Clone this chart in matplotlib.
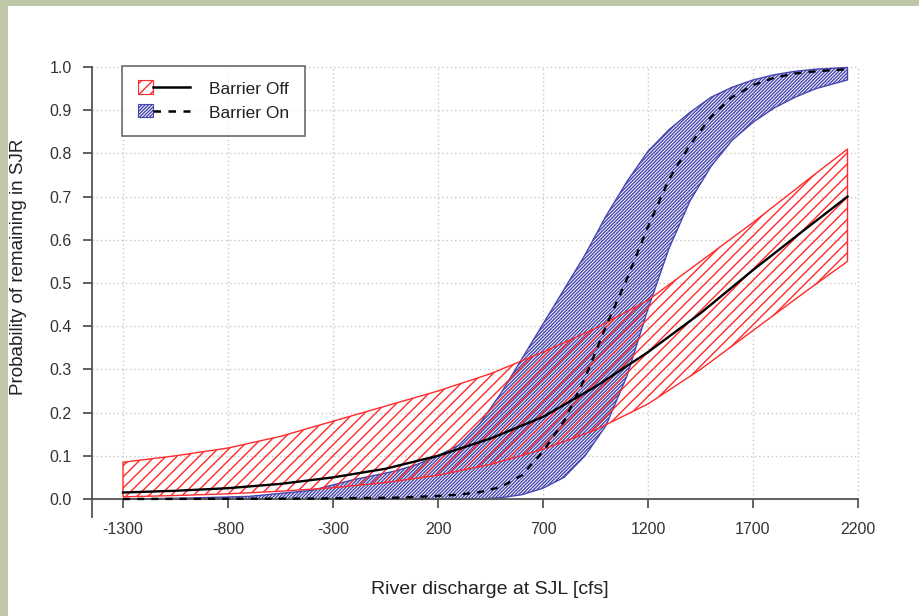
import matplotlib
matplotlib.use("Agg")
import matplotlib.pyplot as plt
from matplotlib.patches import Rectangle
from matplotlib.lines import Line2D

plt.rcParams['font.family'] = ['Liberation Sans', 'DejaVu Sans']
plt.rcParams['hatch.linewidth'] = 1.0

# Barrier off: fitted probability and confidence band
off_x = [-1300, -1050, -800, -550, -300, -50, 200, 450, 700, 950, 1200, 1450, 1700, 1950, 2150]
off_fit = [0.015, 0.019, 0.025, 0.035, 0.05, 0.07, 0.10, 0.14, 0.19, 0.26, 0.34, 0.43, 0.53, 0.625, 0.70]
off_lo = [0.005, 0.008, 0.012, 0.018, 0.026, 0.038, 0.055, 0.08, 0.115, 0.16, 0.22, 0.30, 0.39, 0.48, 0.55]
off_hi = [0.085, 0.10, 0.118, 0.145, 0.18, 0.215, 0.25, 0.29, 0.34, 0.395, 0.46, 0.55, 0.64, 0.735, 0.81]

# Barrier on: fitted probability and confidence band
on_x = [-1300, -1000, -700, -400, -200, 0, 100, 200, 300, 400, 500, 600, 700, 800,
        900, 1000, 1100, 1200, 1300, 1400, 1500, 1600, 1700, 1800, 1900, 2000, 2150]
on_fit = [0.0, 0.0003, 0.0006, 0.001, 0.002, 0.003, 0.005, 0.007, 0.01, 0.016, 0.028, 0.055, 0.11, 0.18,
          0.28, 0.40, 0.51, 0.63, 0.74, 0.82, 0.885, 0.93, 0.958, 0.975, 0.985, 0.99, 0.995]
on_lo = [0.0, 0.0, 0.0, 0.0, 0.0, 0.0, 0.0, 0.0, 0.0, 0.0, 0.003, 0.01, 0.025, 0.05,
         0.10, 0.17, 0.285, 0.44, 0.58, 0.69, 0.77, 0.83, 0.872, 0.905, 0.93, 0.95, 0.97]
on_hi = [0.0, 0.002, 0.006, 0.02, 0.045, 0.065, 0.08, 0.10, 0.125, 0.175, 0.245, 0.325, 0.405, 0.485,
         0.565, 0.655, 0.735, 0.805, 0.855, 0.895, 0.93, 0.953, 0.97, 0.982, 0.99, 0.995, 0.999]

x_ticks = [-1300, -800, -300, 200, 700, 1200, 1700, 2200]
y_ticks = [0.0, 0.1, 0.2, 0.3, 0.4, 0.5, 0.6, 0.7, 0.8, 0.9, 1.0]
labels = ['Barrier Off', 'Barrier On']

red = '#ff2a2a'
blue = '#4646ae'
red_hatch = '/' * 3
blue_hatch = '/' * 10

fig = plt.figure(figsize=(9.19, 6.16), dpi=100, facecolor='#bec8a9')
fig.add_artist(Rectangle((8 / 919, 0), 1, 610 / 616, transform=fig.transFigure,
                         facecolor='white', edgecolor='none', zorder=0))
ax = fig.add_axes([92 / 919, 99 / 616, 766 / 919, 450 / 616])
ax.set_facecolor('none')

xmin = -1300 - 31 / 0.21
ax.set_xlim(xmin, 2200)
ax.set_ylim(-0.0417, 1.0)

# dotted grid, only inside 0..1 / -1300..2200 like R's grid
for xt in x_ticks:
    ax.plot([xt, xt], [0, 1.0], color='#c8c8c8', lw=1, ls=(0, (1, 2)), zorder=1, clip_on=False)
for yt in y_ticks:
    ax.plot([xmin, 2200], [yt, yt], color='#c8c8c8', lw=1, ls=(0, (1, 2)), zorder=1, clip_on=False)

ax.fill_between(on_x, on_lo, on_hi, facecolor='none', edgecolor=blue, hatch=blue_hatch,
                lw=1.0, zorder=2, clip_on=False)
ax.fill_between(off_x, off_lo, off_hi, facecolor='none', edgecolor=red, hatch=red_hatch,
                lw=1.0, zorder=3, clip_on=False)
ax.plot(off_x, off_fit, color='black', lw=1.7, zorder=4, clip_on=False)
ax.plot(on_x, on_fit, color='black', lw=1.7, ls=(0, (3, 3)), zorder=4, clip_on=False)

for s in ['top', 'right']:
    ax.spines[s].set_visible(False)
ax.spines['bottom'].set_position(('data', 0))
for s in ['left', 'bottom']:
    ax.spines[s].set_color('#555555')
    ax.spines[s].set_linewidth(1.3)

ax.set_xticks(x_ticks)
ax.set_xticklabels([str(v) for v in x_ticks])
ax.set_yticks(y_ticks)
ax.set_yticklabels(['%.1f' % v for v in y_ticks])
ax.tick_params(axis='x', length=6.5, width=1.3, color='#555555', pad=10,
               labelsize=11.5, labelcolor='#333333')
ax.tick_params(axis='y', length=6.5, width=1.3, color='#555555', pad=8,
               labelsize=11.5, labelcolor='#333333')

ax.set_xlabel('River discharge at SJL [cfs]', fontsize=14, color='#222222')
ax.xaxis.set_label_coords((490 - 92) / 766, (517 - 590) / 450)
ax.xaxis.label.set_va('center')
ax.set_ylabel('Probability of remaining in SJR', fontsize=13.5, color='#222222')
ax.yaxis.set_label_coords((19 - 92) / 766, (517 - 267) / 450)
ax.yaxis.label.set_va('center')


class BandLine:
    def __init__(self, color, hatch, ls):
        self.color = color
        self.hatch = hatch
        self.ls = ls


class BandLineHandler:
    def legend_artist(self, legend, orig_handle, fontsize, handlebox):
        x0, y0 = handlebox.xdescent, handlebox.ydescent
        w, h = handlebox.width, handlebox.height
        sw = w * 0.3
        rect = Rectangle((x0, y0), sw, h, facecolor='none', edgecolor=orig_handle.color,
                         hatch=orig_handle.hatch, lw=0.8, transform=handlebox.get_transform())
        line = Line2D([x0 + sw, x0 + w], [y0 + h / 2, y0 + h / 2], color='black', lw=1.8,
                      ls=orig_handle.ls, transform=handlebox.get_transform())
        handlebox.add_artist(rect)
        handlebox.add_artist(line)
        return rect


handles = [BandLine(red, red_hatch, '-'), BandLine(blue, blue_hatch, (0, (3, 3)))]
leg = ax.legend(handles, labels, handler_map={BandLine: BandLineHandler()},
                loc='upper left', bbox_to_anchor=((122 - 92) / 766, (517 - 66) / 450),
                borderaxespad=0, fontsize=12.5, handlelength=3.0, handleheight=0.8,
                handletextpad=1.1, borderpad=0.9, labelspacing=0.45,
                fancybox=False, frameon=True)
leg.get_frame().set_edgecolor('#444444')
leg.get_frame().set_linewidth(1.2)
for t in leg.get_texts():
    t.set_color('#222222')

fig.savefig('out.png', dpi=100, facecolor=fig.get_facecolor())
